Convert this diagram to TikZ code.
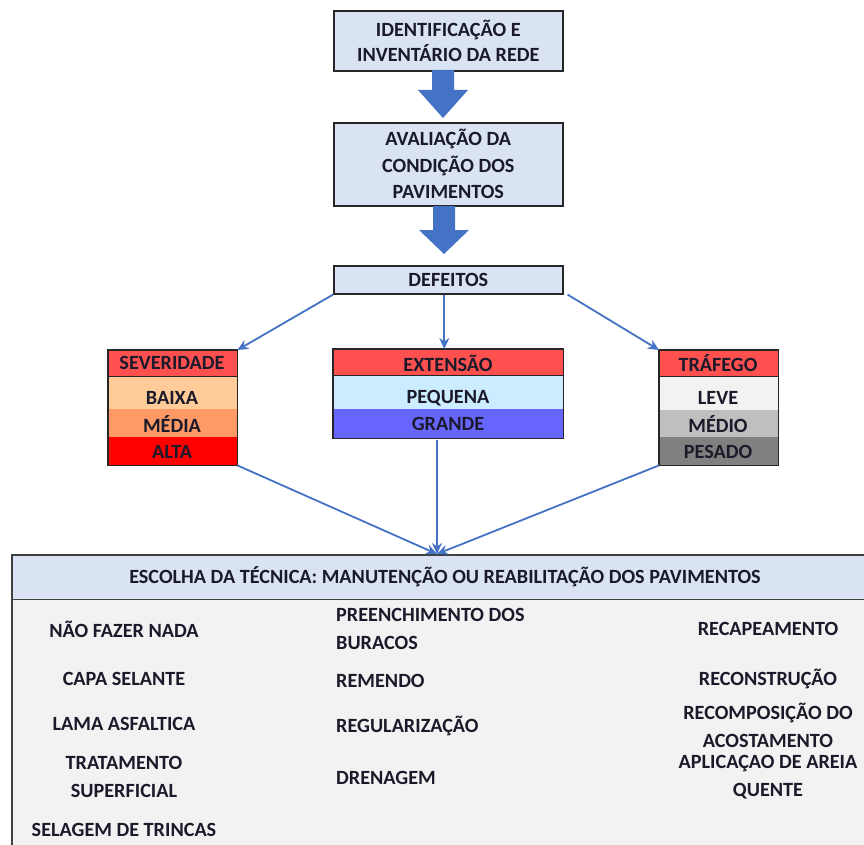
\documentclass[tikz,border=0pt]{standalone}
\usepackage{fontspec}
\setmainfont{Carlito}
\usetikzlibrary{arrows.meta,calc}
\definecolor{boxblue}{HTML}{DAE3F3}
\definecolor{arrowblue}{HTML}{4472C4}
\definecolor{hdrred}{HTML}{FF5050}
\definecolor{peach}{HTML}{FFCC99}
\definecolor{orng}{HTML}{FF9966}
\definecolor{redd}{HTML}{FF0000}
\definecolor{ltblue}{HTML}{CCECFF}
\definecolor{vblue}{HTML}{6666FF}
\definecolor{g1}{HTML}{F2F2F2}
\definecolor{g2}{HTML}{BFBFBF}
\definecolor{g3}{HTML}{808080}
\definecolor{txt}{HTML}{1A1A2A}
\definecolor{bodygray}{HTML}{F2F2F2}
\begin{document}
\begin{tikzpicture}[x=1pt,y=-1pt,
  every node/.style={text=txt, font=\fontsize{20.2}{25}\selectfont\bfseries, inner sep=0pt},
  flowbox/.style={draw=black!85, line width=1.6pt, fill=boxblue, align=center, anchor=north west},
  cell/.style={anchor=north west, minimum height=#1, inner sep=0pt},
  outline/.style={draw=black!85, line width=1.6pt},
  conn/.style={draw=arrowblue, line width=1.8pt, -{Stealth[length=11pt,width=10pt]}},
  blockarrow/.style={fill=arrowblue},
  lbl/.style={anchor=center}
]
\useasboundingbox (0,0) rectangle (864,845);
\clip (0,0) rectangle (864,845);

% top boxes
\node[flowbox, minimum width=229pt, minimum height=60pt] (ident) at (333,10)
  {IDENTIFICAÇÃO E\\INVENTÁRIO DA REDE};
\node[flowbox, minimum width=229pt, minimum height=83pt, font=\fontsize{20.2}{26.5}\selectfont\bfseries] (aval) at (333,122)
  {AVALIAÇÃO DA\\CONDIÇÃO DOS\\PAVIMENTOS};
\node[flowbox, minimum width=229pt, minimum height=28pt] (def) at (333,265) {DEFEITOS};

% block arrows
\coordinate (a1) at (443,70);
\coordinate (a2) at (444,206);
\fill[blockarrow] (a1) ++(-11,0) -- ++(22,0) -- ++(0,20) -- ++(14,0) -- (443,118) -- (418,90) -- (432,90) -- cycle;
\fill[blockarrow] (a2) ++(-11,0) -- ++(22,0) -- ++(0,24) -- ++(14,0) -- (444,254) -- (419,230) -- (433,230) -- cycle;

% SEVERIDADE table
\node[cell=26pt, minimum width=129pt, fill=hdrred] (sevh) at (108,350) {};
\node[cell=33pt, minimum width=129pt, fill=peach] (sev1) at (108,376) {};
\node[cell=28pt, minimum width=129pt, fill=orng] (sev2) at (108,409) {};
\node[cell=28pt, minimum width=129pt, fill=redd] (sev3) at (108,437) {};
\draw[outline] (sevh.north west) rectangle (sev3.south east);
\draw[outline] (sevh.south west) -- (sevh.south east);
\node (sevht) at (172,363) {SEVERIDADE};
\node (sev1t) at (172,398) {BAIXA};
\node (sev2t) at (172,424) {MÉDIA};
\node (sev3t) at (172,452) {ALTA};

% EXTENSAO table
\node[cell=26pt, minimum width=230pt, fill=hdrred] (exth) at (333,349) {};
\node[cell=34pt, minimum width=230pt, fill=ltblue] (ext1) at (333,375) {};
\node[cell=29pt, minimum width=230pt, fill=vblue] (ext2) at (333,409) {};
\draw[outline] (exth.north west) rectangle (ext2.south east);
\draw[outline] (exth.south west) -- (exth.south east);
\node (extht) at (448,363) {EXTENSÃO};
\node (ext1t) at (448,398) {PEQUENA};
\node (ext2t) at (448,424) {GRANDE};

% TRAFEGO table
\node[cell=26pt, minimum width=119pt, fill=hdrred] (trah) at (659,350) {};
\node[cell=34pt, minimum width=119pt, fill=g1] (tra1) at (659,376) {};
\node[cell=27pt, minimum width=119pt, fill=g2] (tra2) at (659,410) {};
\node[cell=28pt, minimum width=119pt, fill=g3] (tra3) at (659,437) {};
\draw[outline] (trah.north west) rectangle (tra3.south east);
\draw[outline] (trah.south west) -- (trah.south east);
\node (traht) at (718,363) {TRÁFEGO};
\node (tra1t) at (718,398) {LEVE};
\node (tra2t) at (718,424) {MÉDIO};
\node (tra3t) at (718,452) {PESADO};

% bottom box
\node[cell=44pt, minimum width=866pt, fill=boxblue] (techh) at (12,555) {};
\node[cell=260pt, minimum width=866pt, fill=bodygray] (techb) at (12,599) {};
\draw[outline, draw=black!75] (techh.north west) rectangle (techb.south east);
\draw[outline, draw=black!75] (techh.south west) -- (techh.south east);
\node (techt) at (445,577) {ESCOLHA DA TÉCNICA: MANUTENÇÃO OU REABILITAÇÃO DOS PAVIMENTOS};
\coordinate (conv) at (437,554);

% connectors
\draw[conn] (def.south west) -- (sevh.north east);
\draw[conn] (def.south) ++(-4,0) coordinate (defc) -- (defc |- exth.north);
\draw[conn] (def.south east) ++(4,0) -- (trah.north west);
\draw[conn] (sev3.south east) -- (conv);
\draw[conn] (437,440) coordinate (extc) -- (conv);
\draw[conn] (tra3.south west) -- (conv);

% column 1
\node[lbl] (c11) at (124,629) {NÃO FAZER NADA};
\node[lbl] (c12) at (124,679) {CAPA SELANTE};
\node[lbl] (c13) at (124,724) {LAMA ASFALTICA};
\node[lbl, align=center] (c14) at (124,777) {TRATAMENTO\\[3pt]SUPERFICIAL};
\node[lbl] (c15) at (124,830) {SELAGEM DE TRINCAS};
% column 2
\node[lbl, anchor=west, align=left] (c21) at (336,629) {PREENCHIMENTO DOS\\[3pt]BURACOS};
\node[lbl, anchor=west] (c22) at (336,681) {REMENDO};
\node[lbl, anchor=west] (c23) at (336,726) {REGULARIZAÇÃO};
\node[lbl, anchor=west] (c24) at (336,778) {DRENAGEM};
% column 3
\node[lbl] (c31) at (768,629) {RECAPEAMENTO};
\node[lbl] (c32) at (768,679) {RECONSTRUÇÃO};
\node[lbl, align=center] (c33) at (768,725) {RECOMPOSIÇÃO DO\\[3pt]ACOSTAMENTO};
\node[lbl, align=center] (c34) at (768,777) {APLICAÇAO DE AREIA\\[3pt]QUENTE};
\end{tikzpicture}
\end{document}
